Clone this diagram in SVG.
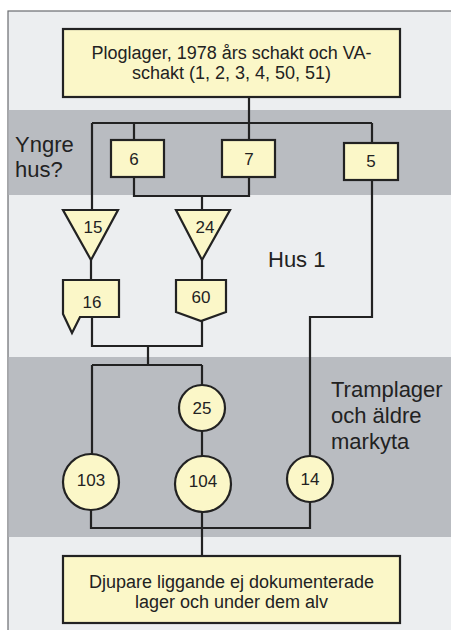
<svg xmlns="http://www.w3.org/2000/svg" width="451" height="630" viewBox="0 0 451 630">
<style>
.frame{fill:#eceef0;stroke:#6a6c70;stroke-width:1.2}
.band{fill:#b9bcc1}
.node{fill:#fbf7c8;stroke:#222;stroke-width:2.2;stroke-linejoin:miter}
.line{fill:none;stroke:#222;stroke-width:2.2}
.t{font-family:"Liberation Sans",Arial,sans-serif;fill:#222}
.big{font-size:18px;text-anchor:middle}
.num{font-size:17px;text-anchor:middle}
.lab{font-size:22px}
</style>
<rect class="frame" x="8" y="11" width="460" height="630"/>
<rect class="band" x="8.6" y="110" width="450" height="85"/>
<rect class="band" x="8.6" y="357" width="450" height="180"/>
<g id="labels">
<text class="t lab" x="15" y="152">Yngre</text>
<text class="t lab" x="15" y="177">hus?</text>
<text class="t lab" x="268" y="267">Hus 1</text>
<text class="t lab" x="331" y="397">Tramplager</text>
<text class="t lab" x="331" y="423">och äldre</text>
<text class="t lab" x="331" y="449">markyta</text>
</g>
<g id="connectors">
<path class="line" d="M249 97 V123 M92 123 H372 M92 123 V210 M134 123 V140 M249 123 V140 M372 123 V143"/>
<path class="line" d="M134 177 V196 H249 V177 M202 196 V210"/>
<path class="line" d="M91 260 V280 M202 260 V280"/>
<path class="line" d="M92 317 V346 H202 V321 M148 346 V365 M92 365 H202 M92 365 V454 M202 365 V385"/>
<path class="line" d="M202 431 V456"/>
<path class="line" d="M372 180 V317 H310 V456"/>
<path class="line" d="M91 510 V528 H310 V502 M202 511 V556"/>
</g>
<g id="n_top">
<rect class="node" x="63" y="29" width="337" height="68"/>
<text class="t big" x="231.5" y="59">Ploglager, 1978 års schakt och VA-</text>
<text class="t big" x="231.5" y="79">schakt (1, 2, 3, 4, 50, 51)</text>
</g>
<g id="n6"><rect class="node" x="111" y="140" width="53" height="37"/><text class="t num" x="134" y="165">6</text></g>
<g id="n7"><rect class="node" x="222" y="140" width="53" height="37"/><text class="t num" x="249" y="165">7</text></g>
<g id="n5"><rect class="node" x="344" y="143" width="54" height="37"/><text class="t num" x="371" y="167">5</text></g>
<g id="n15"><polygon class="node" points="63,210 118,210 91,260"/><text class="t num" x="93" y="233">15</text></g>
<g id="n24"><polygon class="node" points="176,210 230,210 202,260"/><text class="t num" x="205" y="233">24</text></g>
<g id="n16"><polygon class="node" points="63,280 119,280 119,317 80,317 72,333 63,314"/><text class="t num" x="92" y="308">16</text></g>
<g id="n60"><polygon class="node" points="176,280 226,280 226,312 201,321 176,312"/><text class="t num" x="201" y="303">60</text></g>
<g id="n25"><circle class="node" cx="202" cy="408" r="23"/><text class="t num" x="202" y="414">25</text></g>
<g id="n103"><circle class="node" cx="91" cy="482" r="28"/><text class="t num" x="91" y="486">103</text></g>
<g id="n104"><circle class="node" cx="203" cy="484" r="28"/><text class="t num" x="203" y="487">104</text></g>
<g id="n14"><circle class="node" cx="310" cy="479" r="23"/><text class="t num" x="310" y="485">14</text></g>
<g id="n_bottom">
<rect class="node" x="63" y="556" width="337" height="67"/>
<text class="t big" x="231.5" y="588">Djupare liggande ej dokumenterade</text>
<text class="t big" x="231.5" y="608">lager och under dem alv</text>
</g>
</svg>
